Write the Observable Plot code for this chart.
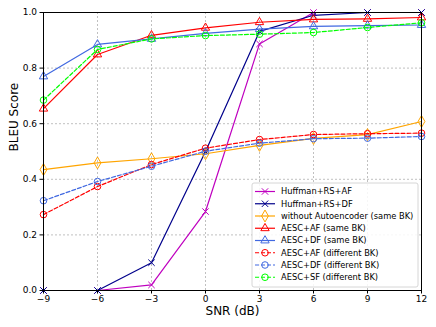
<!DOCTYPE html>
<html>
<head>
<meta charset="utf-8">
<script src="https://cdn.jsdelivr.net/npm/d3@7"></script>
<script src="https://cdn.jsdelivr.net/npm/@observablehq/plot@0.6"></script>
<style>
  body { margin: 0; background: white; }
  #chart svg { font-family: "DejaVu Sans", sans-serif; }
</style>
</head>
<body>
<div id="chart"></div>
<script>
const snr = [-9, -6, -3, 0, 3, 6, 9, 12];
const yTicks = [0, 0.2, 0.4, 0.6, 0.8, 1.0];

const names = [
  "Huffman+RS+AF",
  "Huffman+RS+DF",
  "without Autoencoder (same BK)",
  "AESC+AF (same BK)",
  "AESC+DF (same BK)",
  "AESC+AF (different BK)",
  "AESC+DF (different BK)",
  "AESC+SF (different BK)"
];
const huffAF     = [0, 0, 0.02, 0.284, 0.887, 1.0, 1.0, 1.0];
const huffDF     = [0, 0, 0.10, 0.50, 0.932, 0.99, 1.0, 1.0];
const noAE       = [0.435, 0.459, 0.474, 0.492, 0.522, 0.547, 0.561, 0.608];
const aescAFsame = [0.654, 0.849, 0.918, 0.945, 0.965, 0.975, 0.977, 0.982];
const aescDFsame = [0.770, 0.885, 0.905, 0.925, 0.940, 0.950, 0.953, 0.955];
const aescAFdiff = [0.273, 0.374, 0.453, 0.512, 0.543, 0.561, 0.564, 0.566];
const aescDFdiff = [0.323, 0.392, 0.447, 0.501, 0.530, 0.546, 0.548, 0.554];
const aescSFdiff = [0.685, 0.867, 0.905, 0.917, 0.922, 0.928, 0.946, 0.963];

const seriesValues = [huffAF, huffDF, noAE, aescAFsame, aescDFsame, aescAFdiff, aescDFdiff, aescSFdiff];
const colors  = ["#bf00bf", "#00008b", "#ffa500", "#ff0000", "#4169e1", "#ff0000", "#4169e1", "#00ff00"];
const symbols = ["times", "times", "diamond", "triangle", "triangle", "circle", "circle", "circle"];
const dashed  = [false, false, false, false, false, true, true, true];

const series = names.map((name, i) => ({
  name, color: colors[i], symbol: symbols[i], dashed: dashed[i],
  data: snr.map((s, j) => ({snr: s, bleu: seriesValues[i][j], name}))
}));

const rFor = (sym) => sym === "diamond" ? 3.6 : sym === "times" ? 3.0 : sym === "triangle" ? 3.1 : 3.3;

const marks = [
  Plot.gridX(snr, {stroke: "#b0b0b0", strokeOpacity: 1, strokeDasharray: "2,2", strokeWidth: 0.8}),
  Plot.gridY(yTicks, {stroke: "#b0b0b0", strokeOpacity: 1, strokeDasharray: "2,2", strokeWidth: 0.8}),
  Plot.axisX({ticks: snr, tickSize: 3.5, tickPadding: 2, fontSize: 9, label: null, stroke: "black"}),
  Plot.axisY({ticks: yTicks, tickSize: 3.5, tickPadding: 3, fontSize: 9, label: null, tickFormat: d3.format(".1f"), stroke: "black"}),
  Plot.text(["SNR (dB)"], {frameAnchor: "bottom", dy: 21, fontSize: 12, lineAnchor: "middle", fill: "black"}),
  Plot.text(["BLEU Score"], {frameAnchor: "left", dx: -29, rotate: -90, fontSize: 12, lineAnchor: "middle", fill: "black"})
];
for (const s of series) {
  marks.push(Plot.line(s.data, {
    x: "snr", y: "bleu", stroke: s.color, strokeWidth: 1.2,
    strokeDasharray: s.dashed ? "4,2" : null
  }));
  marks.push(Plot.dot(s.data, {
    x: "snr", y: "bleu", stroke: s.color, fill: "none", strokeWidth: 1,
    symbol: () => s.symbol, r: rFor(s.symbol)
  }));
}
marks.push(Plot.frame({stroke: "black", strokeWidth: 1}));

const plot = Plot.plot({
  width: 436, height: 327,
  marginLeft: 43, marginRight: 15, marginTop: 12, marginBottom: 37,
  style: {background: "white", fontFamily: "DejaVu Sans, sans-serif", color: "black"},
  x: {domain: [-9, 12]},
  y: {domain: [0, 1]},
  symbol: {type: "identity"},
  marks
});
document.getElementById("chart").appendChild(plot);

// Legend (inside the plot, lower right)
const svg = d3.select(plot);
const right = 436 - 15;
const bottom = 327 - 37;
const boxW = 166, rowH = 12.25, boxH = rowH * names.length + 6;
const bx = right - boxW - 3, by = bottom - boxH - 3;
const lg = svg.append("g").attr("text-anchor", "start");
lg.append("rect").attr("x", bx).attr("y", by).attr("width", boxW).attr("height", boxH)
  .attr("rx", 2).attr("fill", "white").attr("fill-opacity", 0.85)
  .attr("stroke", "#cccccc").attr("stroke-width", 0.8);
const symGen = {
  times: d3.symbolTimes, diamond: d3.symbolDiamond, triangle: d3.symbolTriangle, circle: d3.symbolCircle
};
series.forEach((s, i) => {
  const cy = by + 8 + i * rowH + 0.5;
  const x0 = bx + 3, x1 = bx + 23;
  lg.append("line").attr("x1", x0).attr("x2", x1).attr("y1", cy).attr("y2", cy)
    .attr("stroke", s.color).attr("stroke-width", 1.2)
    .attr("stroke-dasharray", s.dashed ? "4,2" : null);
  const r = rFor(s.symbol);
  lg.append("path").attr("d", d3.symbol(symGen[s.symbol], Math.PI * r * r)())
    .attr("transform", `translate(${(x0 + x1) / 2},${cy})`)
    .attr("fill", "none").attr("stroke", s.color).attr("stroke-width", 1);
  lg.append("text").attr("x", bx + 29).attr("y", cy).attr("dy", "0.35em")
    .attr("text-anchor", "start")
    .attr("font-size", 8.3).attr("fill", "black").text(s.name);
});
</script>
</body>
</html>
